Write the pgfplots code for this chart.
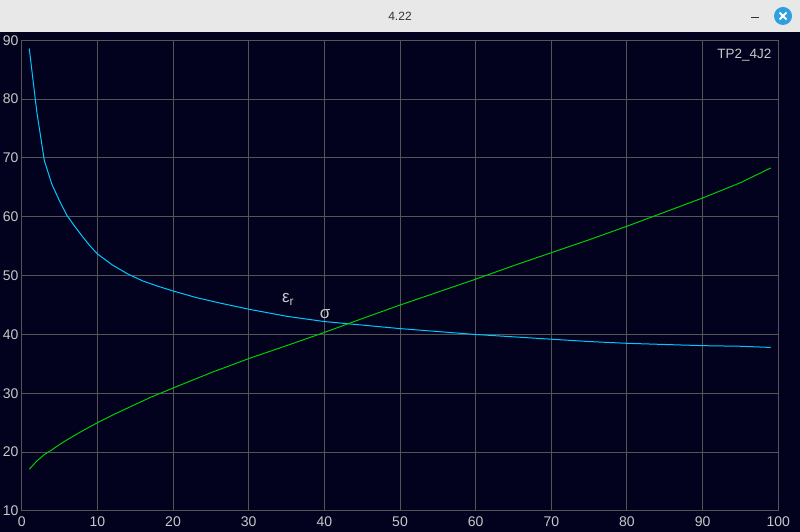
\documentclass[border=0pt]{standalone}
\usepackage{fontspec}
\setmainfont{Liberation Sans}
\usepackage{pgfplots}
\pgfplotsset{compat=1.18}
\definecolor{bg}{RGB}{2,2,30}
\definecolor{gridc}{RGB}{85,85,85}
\definecolor{labc}{RGB}{200,200,200}
\definecolor{cyanc}{RGB}{0,200,255}
\definecolor{greenc}{RGB}{0,205,0}
\definecolor{barc}{RGB}{232,232,232}
\definecolor{btn}{RGB}{44,160,225}
\begin{document}
\begin{tikzpicture}[x=1pt,y=1pt]
\fill[bg] (0,0) rectangle (800,500);
\fill[barc] (0,500) rectangle (800,532);
\node[text=black!80, font=\fontsize{12}{14}\selectfont] at (400,516) {4.22};
\draw[black!80, line width=1pt] (751,514)--(759,514);
\fill[btn] (783,516) circle (9);
\draw[white, line width=1.8pt] (779.5,512.5)--(786.5,519.5) (779.5,519.5)--(786.5,512.5);
\useasboundingbox (0,0) rectangle (800,532);
\begin{axis}[
  at={(21.7pt,21pt)}, anchor=south west,
  scale only axis, width=756.6pt, height=470.7pt,
  xmin=0, xmax=100, ymin=10, ymax=90,
  xtick={0,10,...,100}, ytick={10,20,...,90},
  grid=major,
  major grid style={gridc, line width=1pt},
  axis line style={gridc, line width=1pt},
  tick style={draw=none},
  tick label style={text=labc, font=\fontsize{14}{15}\selectfont},
  /pgf/number format/assume math mode=true,
  yticklabel style={anchor=east, inner sep=0pt, xshift=-3pt},
  xticklabel style={anchor=north, inner sep=0pt, yshift=-6pt},
]
\addplot[cyanc, line width=1pt] coordinates {
(1,88.6) (2,77.8) (3,69.5) (4,65.5) (5,62.7) (6,60.2) (7,58.4) (8,56.7) (9,55.1)
(10,53.7) (12,51.8) (14,50.3) (16,49.1) (18,48.2) (20,47.4) (23,46.3) (26,45.4)
(30,44.3) (35,43.1) (40,42.2) (45,41.6) (50,41.0) (55,40.5) (60,40.0) (65,39.6)
(70,39.2) (75,38.8) (80,38.5) (85,38.3) (90,38.1) (95,38.0) (99,37.8)
};
\addplot[greenc, line width=1pt] coordinates {
(1,17.1) (2,18.5) (3,19.6) (4,20.4) (5,21.3) (6,22.1) (8,23.6) (10,25.0) (12,26.3)
(14,27.5) (17,29.3) (20,30.9) (25,33.5) (30,35.9) (35,38.1) (40,40.35) (45,42.7)
(50,45.0) (55,47.2) (60,49.4) (65,51.7) (70,53.9) (75,56.1) (80,58.4) (85,60.8)
(90,63.2) (95,65.8) (99,68.3)
};
\node[text=labc, font=\fontsize{17}{18}\selectfont] at (axis cs:35.2,46.0) {ε\textsubscript{r}};
\node[text=labc, font=\fontsize{17}{18}\selectfont] at (axis cs:40.1,43.4) {σ};
\node[text=labc, font=\fontsize{13.5}{14}\selectfont, anchor=north east, inner sep=0pt] at (axis cs:99.1,88.6) {TP2\_4J2};
\end{axis}
\end{tikzpicture}
\end{document}
